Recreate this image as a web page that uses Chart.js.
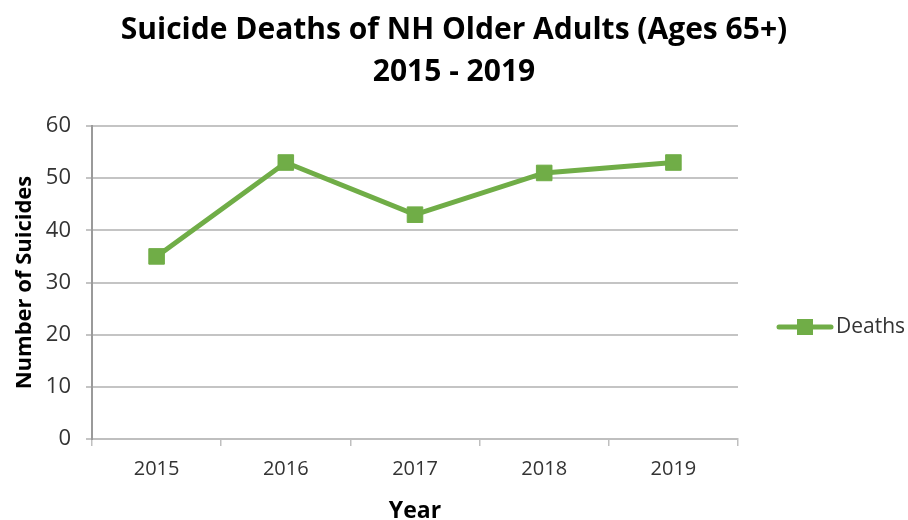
<!DOCTYPE html>
<html>
<head>
<meta charset="utf-8">
<script src="https://cdn.jsdelivr.net/npm/chart.js@4/dist/chart.umd.min.js"></script>
<style>
  html, body { margin: 0; padding: 0; background: #fff; }
  #wrap { width: 908px; height: 520px; }
</style>
</head>
<body>
<div id="wrap"><canvas id="mychart" width="908" height="520"></canvas></div>
<script>
var years = ["2015", "2016", "2017", "2018", "2019"]
var deaths = [35, 53, 43, 51, 53]
var seriesName = "Deaths"
var green = "#70ad47"
var fontName = "'Open Sans', Lato, sans-serif"

// legend drawn by hand: a line with a square on it, right of the plot
var sideLegend = {
    id: 'sideLegend',
    afterDraw: function(chart){
        var ctx = chart.ctx
        var y = 327
        ctx.save()
        ctx.strokeStyle = green
        ctx.lineWidth = 5
        ctx.lineCap = 'round'
        ctx.beginPath()
        ctx.moveTo(779, y)
        ctx.lineTo(831, y)
        ctx.stroke()
        ctx.fillStyle = green
        ctx.fillRect(797, y - 8, 16, 16)
        ctx.fillStyle = "#333333"
        ctx.font = "21px " + fontName
        ctx.textBaseline = 'middle'
        ctx.fillText(seriesName, 836, y)
        ctx.restore()
    }
}

var mychart = document.getElementById("mychart").getContext('2d')

var chart = new Chart(mychart, {
    type: 'line',
    data: {
        labels: years,
        datasets: [{
            label: seriesName,
            data: deaths,
            borderColor: green,
            backgroundColor: green,
            borderWidth: 5,
            pointStyle: 'rect',
            pointRadius: 11,
            pointBorderWidth: 1,
            pointHoverRadius: 11,
            tension: 0
        }]
    },
    options: {
        responsive: false,
        animation: false,
        devicePixelRatio: 1,
        layout: { padding: 0 },
        plugins: {
            legend: { display: false },
            tooltip: { enabled: false },
            title: {
                display: true,
                text: ["Suicide Deaths of NH Older Adults (Ages 65+)", "2015 - 2019"],
                color: "#000",
                font: { family: fontName, size: 30, weight: 'bold', lineHeight: 1.4 },
                padding: { top: 9, bottom: 33 }
            }
        },
        scales: {
            x: {
                offset: true,
                grid: {
                    offset: true,
                    drawOnChartArea: false,
                    color: "#bfbfbf",
                    lineWidth: 1.5,
                    tickLength: 7
                },
                border: { color: "#bfbfbf", width: 2 },
                ticks: {
                    color: "#333333",
                    font: { family: fontName, size: 20 },
                    padding: 11
                },
                title: {
                    display: true,
                    text: "Year",
                    color: "#000",
                    font: { family: fontName, size: 23, weight: 'bold' },
                    padding: { top: 9, bottom: -5 }
                },
                afterFit: function(scale){ scale.height = 81 }
            },
            y: {
                min: 0,
                max: 60,
                ticks: {
                    stepSize: 10,
                    color: "#333333",
                    font: { family: fontName, size: 22 },
                    padding: 15
                },
                grid: {
                    color: "#c4c4c4",
                    lineWidth: 2,
                    tickLength: 6
                },
                border: { color: "#9a9a9a", width: 2 },
                title: {
                    display: true,
                    text: "Number of Suicides",
                    color: "#000",
                    font: { family: fontName, size: 22, weight: 'bold' },
                    padding: { top: 12, bottom: 4 }
                },
                afterFit: function(scale){ scale.width = 92 }
            },
            // empty right-hand axis that keeps room for the legend
            side: {
                position: 'right',
                min: 0,
                max: 60,
                grid: { display: false },
                border: { display: false },
                ticks: { display: false },
                afterFit: function(scale){ scale.width = 170 }
            }
        }
    },
    plugins: [sideLegend]
})
</script>
</body>
</html>
